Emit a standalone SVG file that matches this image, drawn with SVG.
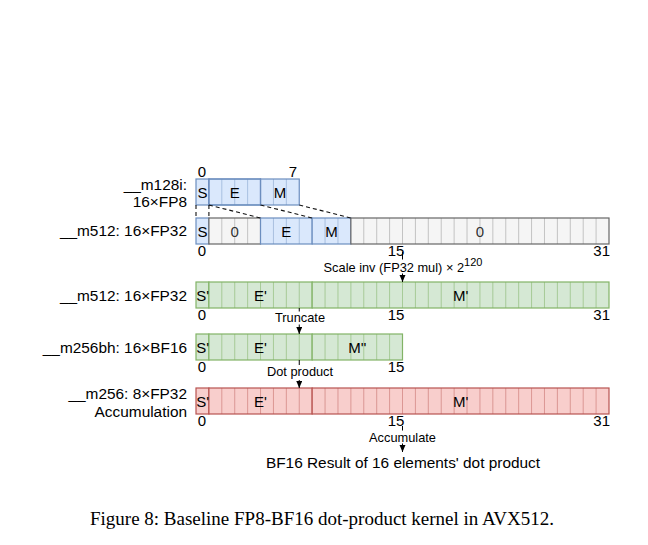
<svg xmlns="http://www.w3.org/2000/svg" width="648" height="545" viewBox="0 0 648 545">
  <style>
    text { font-family: "Liberation Sans", Arial, sans-serif; fill: #000; }
    .lbl { font-size: 15.4px; }
    .num { font-size: 15px; }
    .cell { font-size: 15px; }
    .small { font-size: 12.8px; }
    .sup { font-size: 11px; }
    .cap { font-family: "Liberation Serif", "Times New Roman", serif; font-size: 19px; }
    .end { text-anchor: end; }
    .mid { text-anchor: middle; }
    .blue { fill: #dae8fc; stroke: #6c8ebf; stroke-width: 1.2; }
    .grey { fill: #f5f5f5; stroke: #666666; stroke-width: 1.2; }
    .green { fill: #d5e8d4; stroke: #82b366; stroke-width: 1.2; }
    .red { fill: #f8cecc; stroke: #b85450; stroke-width: 1.2; }
    .in-blue { stroke: #6c8ebf; stroke-opacity: 0.45; stroke-width: 1; fill: none; }
    .in-grey { stroke: #666666; stroke-opacity: 0.35; stroke-width: 1; fill: none; }
    .in-green { stroke: #82b366; stroke-opacity: 0.55; stroke-width: 1; fill: none; }
    .in-red { stroke: #b85450; stroke-opacity: 0.45; stroke-width: 1; fill: none; }
    .dash { stroke: #111; stroke-width: 1.1; stroke-dasharray: 4 3; fill: none; }
    .conn { stroke: #000; stroke-width: 1; fill: none; }
    .bg { fill: #fff; }
  </style>
  <defs>
    <marker id="arrow" markerUnits="userSpaceOnUse" markerWidth="8" markerHeight="8" refX="7" refY="3" orient="auto">
      <path d="M0,0 L7,3 L0,6 Z" fill="#000"/>
    </marker>
  </defs>

  <!-- Row 1: __m128i 16xFP8 -->
  <g id="row-fp8">
    <text class="lbl end" x="187" y="190">__m128i:</text>
    <text class="lbl end" x="187" y="207">16×FP8</text>
    <text class="num mid" x="202" y="176.5">0</text>
    <text class="num mid" x="293" y="176.5">7</text>
    <rect class="blue" x="196" y="179" width="12.91" height="26"/>
    <rect class="blue" x="208.91" y="179" width="51.62" height="26"/>
    <rect class="blue" x="260.53" y="179" width="38.72" height="26"/>
    <path class="in-blue" d="M221.81,179V205M234.72,179V205M247.63,179V205M273.44,179V205M286.34,179V205"/>
    <rect class="blue" style="fill:none" x="208.91" y="179" width="51.62" height="26"/>
    <text class="cell mid" x="202.5" y="198">S</text>
    <text class="cell mid" x="234.7" y="198">E</text>
    <text class="cell mid" x="280" y="198">M</text>
  </g>

  <!-- Row 2: __m512 16xFP32 (input) -->
  <g id="row-fp32-in">
    <text class="lbl end" x="187" y="236">__m512: 16×FP32</text>
    <rect class="blue" x="196" y="218" width="12.91" height="26"/>
    <rect class="grey" x="208.91" y="218" width="51.62" height="26"/>
    <rect class="blue" x="260.53" y="218" width="51.63" height="26"/>
    <rect class="blue" x="312.16" y="218" width="38.72" height="26"/>
    <rect class="grey" x="350.88" y="218" width="258.12" height="26"/>
    <path class="in-grey" d="M221.81,218V244M234.72,218V244M247.63,218V244"/>
    <path class="in-blue" d="M273.44,218V244M286.34,218V244M299.25,218V244M325.06,218V244M337.97,218V244"/>
    <path class="in-grey" d="M363.78,218V244M376.69,218V244M389.59,218V244M402.5,218V244M415.41,218V244M428.31,218V244M441.22,218V244M454.13,218V244M467.03,218V244M479.94,218V244M492.84,218V244M505.75,218V244M518.66,218V244M531.56,218V244M544.47,218V244M557.38,218V244M570.28,218V244M583.19,218V244M596.09,218V244"/>
    <text class="cell mid" x="202.5" y="237">S</text>
    <text class="cell mid" x="234.7" y="237" style="fill:#333">0</text>
    <text class="cell mid" x="286.3" y="237">E</text>
    <text class="cell mid" x="331.5" y="237">M</text>
    <text class="cell mid" x="480" y="237" style="fill:#333">0</text>
    <text class="num mid" x="202" y="255.5">0</text>
    <text class="num mid" x="396" y="255.5">15</text>
    <text class="num end" x="610" y="255.5">31</text>
  </g>

  <!-- Row 3: __m512 16xFP32 (scaled) -->
  <g id="row-fp32-scaled">
    <text class="lbl end" x="187" y="300.5">__m512: 16×FP32</text>
    <rect class="green" x="196" y="282" width="12.91" height="26"/>
    <rect class="green" x="208.91" y="282" width="103.25" height="26"/>
    <rect class="green" x="312.16" y="282" width="296.84" height="26"/>
    <path class="in-green" d="M221.81,282V308M234.72,282V308M247.63,282V308M260.53,282V308M273.44,282V308M286.34,282V308M299.25,282V308M325.06,282V308M337.97,282V308M350.88,282V308M363.78,282V308M376.69,282V308M389.59,282V308M402.5,282V308M415.41,282V308M428.31,282V308M441.22,282V308M454.13,282V308M467.03,282V308M479.94,282V308M492.84,282V308M505.75,282V308M518.66,282V308M531.56,282V308M544.47,282V308M557.38,282V308M570.28,282V308M583.19,282V308M596.09,282V308"/>
    <text class="cell" x="196.3" y="301">S'</text>
    <text class="cell mid" x="260.5" y="301">E'</text>
    <text class="cell mid" x="460.6" y="301">M'</text>
    <text class="num mid" x="202" y="319.5">0</text>
    <text class="num mid" x="396" y="319.5">15</text>
    <text class="num end" x="610" y="319.5">31</text>
  </g>

  <!-- Row 4: __m256bh 16xBF16 -->
  <g id="row-bf16">
    <text class="lbl end" x="187" y="352.5">__m256bh: 16×BF16</text>
    <rect class="green" x="196" y="334" width="12.91" height="26"/>
    <rect class="green" x="208.91" y="334" width="103.25" height="26"/>
    <rect class="green" x="312.16" y="334" width="90.34" height="26"/>
    <path class="in-green" d="M221.81,334V360M234.72,334V360M247.63,334V360M260.53,334V360M273.44,334V360M286.34,334V360M299.25,334V360M325.06,334V360M337.97,334V360M350.88,334V360M363.78,334V360M376.69,334V360M389.59,334V360"/>
    <text class="cell" x="196.3" y="353">S'</text>
    <text class="cell mid" x="260.5" y="353">E'</text>
    <text class="cell mid" x="357.3" y="353">M''</text>
    <text class="num mid" x="202" y="371.5">0</text>
    <text class="num mid" x="396" y="371.5">15</text>
  </g>

  <!-- Row 5: __m256 8xFP32 Accumulation -->
  <g id="row-acc">
    <text class="lbl end" x="187" y="398.5">__m256: 8×FP32</text>
    <text class="lbl end" x="187" y="416.5">Accumulation</text>
    <rect class="red" x="196" y="388" width="12.91" height="26"/>
    <rect class="red" x="208.91" y="388" width="103.25" height="26"/>
    <rect class="red" x="312.16" y="388" width="296.84" height="26"/>
    <path class="in-red" d="M221.81,388V414M234.72,388V414M247.63,388V414M260.53,388V414M273.44,388V414M286.34,388V414M299.25,388V414M325.06,388V414M337.97,388V414M350.88,388V414M363.78,388V414M376.69,388V414M389.59,388V414M402.5,388V414M415.41,388V414M428.31,388V414M441.22,388V414M454.13,388V414M467.03,388V414M479.94,388V414M492.84,388V414M505.75,388V414M518.66,388V414M531.56,388V414M544.47,388V414M557.38,388V414M570.28,388V414M583.19,388V414M596.09,388V414"/>
    <text class="cell" x="196.3" y="407">S'</text>
    <text class="cell mid" x="260.5" y="407">E'</text>
    <text class="cell mid" x="460.6" y="407">M'</text>
    <text class="num mid" x="202" y="425.5">0</text>
    <text class="num mid" x="396" y="425.5">15</text>
    <text class="num end" x="610" y="425.5">31</text>
  </g>

  <!-- Result -->
  <g id="result">
    <text class="lbl mid" x="403" y="468">BF16 Result of 16 elements' dot product</text>
  </g>

  <!-- Connectors -->
  <g id="connectors">
    <path class="dash" d="M196,205V218M208.91,205V218M208.91,205L260.53,218M260.53,205L312.16,218M299.25,205L350.88,218"/>
    <path class="conn" d="M402.5,252V282" marker-end="url(#arrow)"/>
    <rect class="bg" x="321" y="259.5" width="165" height="14"/>
    <text class="small mid" x="403" y="271.5">Scale inv (FP32 mul) × 2<tspan class="sup" dy="-5.5">120</tspan></text>

    <path class="conn" d="M299.25,308V334" marker-end="url(#arrow)"/>
    <rect class="bg" x="272" y="311.5" width="56" height="13"/>
    <text class="small mid" x="300" y="322">Truncate</text>

    <path class="conn" d="M299.25,360V388" marker-end="url(#arrow)"/>
    <rect class="bg" x="265" y="365" width="70" height="15"/>
    <text class="small mid" x="300" y="375.5">Dot product</text>

    <path class="conn" d="M402.5,426V452" marker-end="url(#arrow)"/>
    <rect class="bg" x="368" y="430.5" width="70" height="13"/>
    <text class="small mid" x="402.5" y="441.5">Accumulate</text>
  </g>

  <!-- Caption -->
  <g id="caption">
    <text class="cap mid" x="322" y="525">Figure 8: Baseline FP8-BF16 dot-product kernel in AVX512.</text>
  </g>
</svg>
